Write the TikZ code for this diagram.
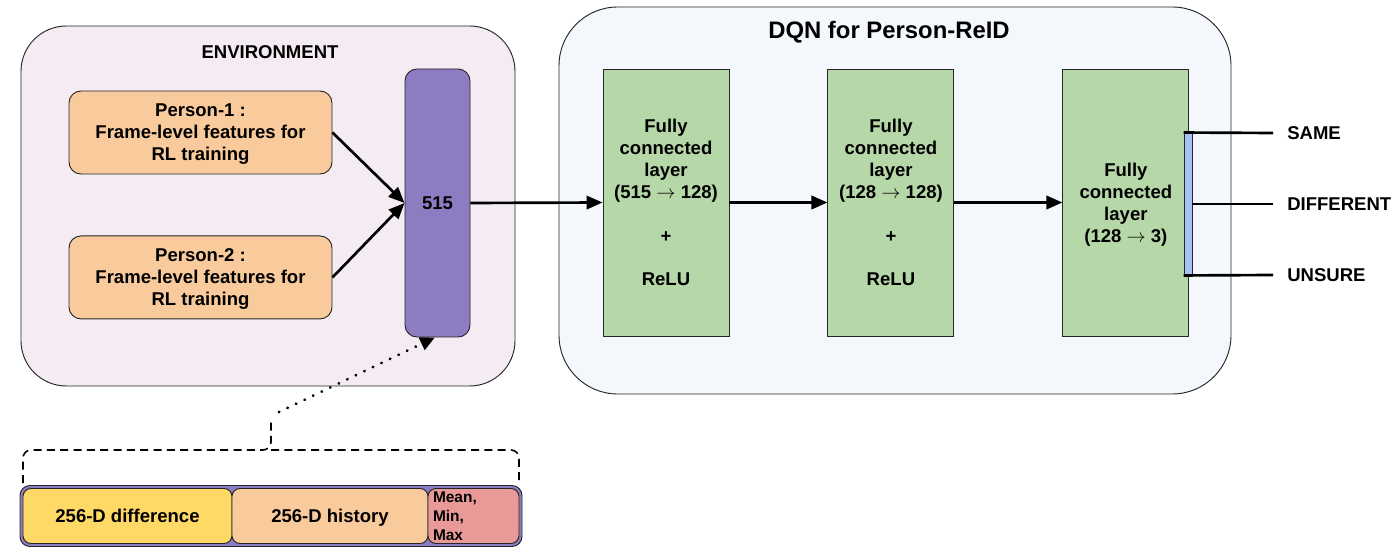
\documentclass[tikz,border=0pt]{standalone}
\usepackage{fontspec}
\setmainfont{Liberation Sans}
\usetikzlibrary{arrows.meta,positioning}

\definecolor{envpink}{HTML}{F5EBF2}
\definecolor{dqnblue}{HTML}{F4F8FC}
\definecolor{peach}{HTML}{F9CB9C}
\definecolor{barpurple}{HTML}{8E7CC3}
\definecolor{fcgreen}{HTML}{B6D7A8}
\definecolor{outblue}{HTML}{A4C2F4}
\definecolor{diffyellow}{HTML}{FFD966}
\definecolor{statred}{HTML}{EA9999}

\begin{document}
\begin{tikzpicture}[x=0.75pt, y=-0.75pt,
    txt/.style = {font=\fontsize{13.9}{16.5}\selectfont\bfseries},
    panel/.style = {draw=black!85, line width=0.7pt, inner sep=0pt},
    feat/.style = {panel, fill=peach, rounded corners=9pt, minimum width=197.25pt, minimum height=62.25pt, align=center, txt, text depth=0pt},
    fc/.style = {panel, fill=fcgreen, minimum width=94.5pt, minimum height=200.25pt, align=center, txt, text depth=0pt},
    part/.style = {panel, rounded corners=6pt, minimum height=41.25pt, txt},
    outlabel/.style = {inner sep=0pt, anchor=west, txt},
    flow/.style = {line width=2pt, -{Triangle[length=12pt,width=10pt]}},
    outline/.style = {line width=2pt},
    brace/.style = {line width=1.2pt, dash pattern=on 6pt off 4pt, rounded corners=6pt},
    dotarrow/.style = {line width=2.3pt, dash pattern=on 0.1pt off 7pt, line cap=round, -{Triangle[length=11pt,width=10pt]}}]
\useasboundingbox (0,0) rectangle (1398,555);

% environment
\node[panel, fill=envpink, rounded corners=34pt, minimum width=370.5pt, minimum height=270pt] (env) at (268,206) {};
\node[txt] (envtitle) at (270,52) {ENVIRONMENT};
\node[feat] (person1) at (200.5,132.5) {Person-1 :\\Frame-level features for\\RL training};
\node[feat] (person2) [below=45.75pt of person1] {Person-2 :\\Frame-level features for\\RL training};
\node[panel, fill=barpurple, rounded corners=9pt, minimum width=48.75pt, minimum height=201pt, txt] (bar) at (437.5,203) {515};

% dqn
\node[panel, fill=dqnblue, rounded corners=44pt, minimum width=504pt, minimum height=290.25pt] (dqn) at (895,200.5) {};
\node[font=\fontsize{17.9}{20}\selectfont\bfseries] (dqntitle) at (889,32) {DQN for Person-ReID};
\node[fc] (fc1) at (666,202.5) {Fully\\connected\\layer\\(515 $\rightarrow$ 128)\\[16pt]+\\[16pt]ReLU};
\node[fc] (fc2) [right=73.5pt of fc1] {Fully\\connected\\layer\\(128 $\rightarrow$ 128)\\[16pt]+\\[16pt]ReLU};
\node[fc] (fc3) [right=81pt of fc2] {Fully\\connected\\layer\\(128 $\rightarrow$ 3)};
\node[panel, fill=outblue, minimum width=6pt, minimum height=106.5pt] (out) at (1188,204) {};

\node[outlabel] (same) at (1287,133) {SAME};
\node[outlabel] (different) at (1287,204) {DIFFERENT};
\node[outlabel] (unsure) at (1287,275) {UNSURE};

\draw[flow] (person1.east) -- (bar.west);
\draw[flow] (person2.east) -- (bar.west);
\draw[flow] (bar.east) -- (fc1.west);
\draw[flow] (fc1.east) -- (fc2.west);
\draw[flow] (fc2.east) -- (fc3.west);
\draw[outline] (out.north west) -- ([xshift=-10.5pt]same.west);
\draw[outline] (out.east) -- ([xshift=-10.5pt]different.west);
\draw[outline] (out.south west) -- ([xshift=-10.5pt]unsure.west);

% feature vector
\node[panel, fill=barpurple, rounded corners=7.5pt, minimum width=376.5pt, minimum height=45.75pt] (featbar) at (271,516) {};
\node[part, fill=diffyellow, minimum width=156.75pt] (diff) at (127.5,516) {256-D difference};
\node[part, fill=peach, minimum width=147pt, text depth=0pt] (hist) at (330,516) {256-D history};
\node[part, fill=statred, text width=60.75pt, inner xsep=3.75pt, align=left, font=\fontsize{11.6}{14.2}\selectfont\bfseries] (stats) at (473.5,516) {Mean,\\Min,\\Max};

\draw[brace] (23,483) |- (271,450) -- (271,419);
\draw[brace] (271,450) -| (519,483);
\coordinate (bracetip) at (279,412);
\draw[dotarrow] (bracetip) -- ([xshift=-2pt]bar.south);
\end{tikzpicture}
\end{document}
